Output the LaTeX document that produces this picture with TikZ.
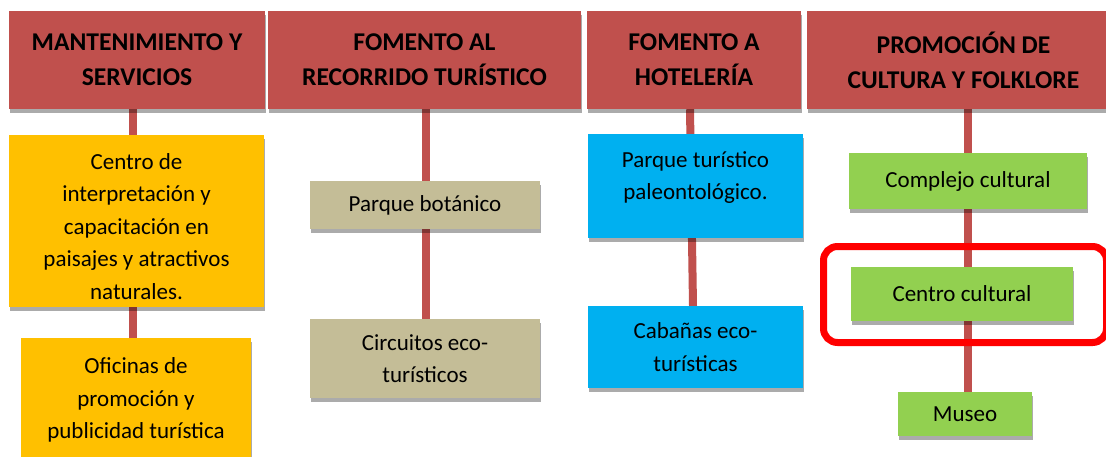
\documentclass[tikz,border=0pt]{standalone}
\usepackage{fontspec}
\setmainfont{Carlito}
\usetikzlibrary{shadows}
\definecolor{hdr}{HTML}{C0504D}
\definecolor{yel}{HTML}{FFC000}
\definecolor{tanb}{HTML}{C4BD97}
\definecolor{sky}{HTML}{00B0F0}
\definecolor{grn}{HTML}{92D050}
\definecolor{hl}{HTML}{FF0000}
\pgfdeclarelayer{background}
\pgfsetlayers{background,main}
\tikzset{
  box/.style={rectangle, inner sep=0pt, align=center,
    drop shadow={shadow xshift=1pt, shadow yshift=-4pt, fill=black, opacity=0.33}},
  head/.style={box, fill=hdr, font=\fontsize{25.6}{35}\selectfont\bfseries},
  item/.style={box, font=\fontsize{23}{32.5}\selectfont},
  conn/.style={draw=hdr, line width=8pt},
  mark box/.style={draw=hl, line width=7pt, rounded corners=14pt}
}
\begin{document}
\begin{tikzpicture}[x=1pt,y=-1pt]
\useasboundingbox (0,0) rectangle (1106,456);
% headers
\node[head, minimum width=256, minimum height=98] (h1) at (137,60) {MANTENIMIENTO Y\\SERVICIOS};
\node[head, minimum width=313, minimum height=98] (h2) at (424.5,60) {FOMENTO AL\\RECORRIDO TURÍSTICO};
\node[head, minimum width=214, minimum height=98] (h3) at (694,60) {FOMENTO A\\HOTELERÍA};
\node[head, minimum width=313, minimum height=98] (h4) at (963.5,60) {PROMOCIÓN DE\\CULTURA Y FOLKLORE};
% column 1
\node[item, fill=yel, minimum width=255, minimum height=172, text height=157pt] (c1a) at (136.5,221) {Centro de\\interpretación y\\capacitación en\\paisajes y atractivos\\naturales.};
\node[item, fill=yel, minimum width=230, minimum height=124] (c1b) at (136,400) {Oficinas de\\promoción y\\publicidad turística};
% column 2
\node[item, fill=tanb, minimum width=230, minimum height=48] (c2a) at (425,205) {Parque botánico};
\node[item, fill=tanb, minimum width=230, minimum height=79] (c2b) at (425,358.5) {Circuitos eco-\\turísticos};
% column 3
\node[item, fill=sky, minimum width=215, minimum height=104, text depth=21pt] (c3a) at (695.5,186) {Parque turístico\\paleontológico.};
\node[item, fill=sky, minimum width=215, minimum height=82] (c3b) at (695.5,347) {Cabañas eco-\\turísticas};
% column 4
\node[item, fill=grn, minimum width=238, minimum height=56] (c4a) at (968,181) {Complejo cultural};
\node[item, fill=grn, minimum width=222, minimum height=54] (c4b) at (962,294) {Centro cultural};
\node[item, fill=grn, minimum width=134, minimum height=44] (c4c) at (965,414) {Museo};
% connectors
\begin{pgfonlayer}{background}
\draw[conn] ([xshift=-4]h1.south) -- ([xshift=-3]c1b.north);
\draw[conn] ([xshift=1.5]h2.south) -- ([xshift=1]c2b.north);
\draw[conn] ([xshift=-4]h3.south) -- ([xshift=-2.5]c3b.north);
\draw[conn] ([xshift=4.5]h4.south) -- ([xshift=3]c4c.north);
\end{pgfonlayer}
% highlight
\draw[mark box] (823.5,246.5) rectangle (1106.5,342.5);
\end{tikzpicture}
\end{document}
